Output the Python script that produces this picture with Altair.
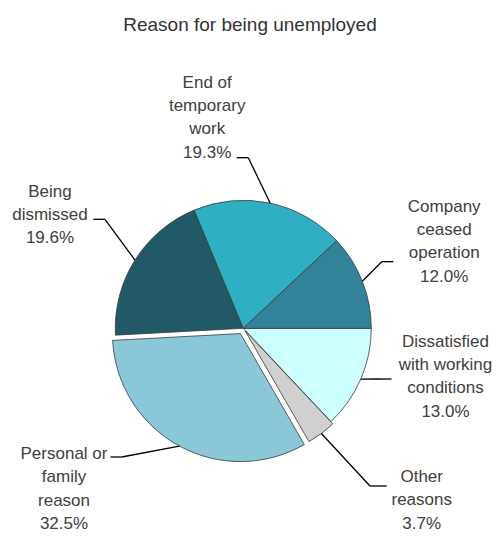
import altair as alt
import pandas as pd

# ---- data ----
categories = [
    "Dissatisfied with working conditions",
    "Other reasons",
    "Personal or family reason",
    "Being dismissed",
    "End of temporary work",
    "Company ceased operation",
]
label_text = [
    "Dissatisfied\nwith working\nconditions",
    "Other\nreasons",
    "Personal or\nfamily\nreason",
    "Being\ndismissed",
    "End of\ntemporary\nwork",
    "Company\nceased\noperation",
]
shares = [13.0, 3.7, 32.5, 19.6, 19.3, 12.0]
order = [0, 1, 2, 3, 4, 5]
title_text = ["Reason for being unemployed"]

# ---- styles ----
colors = ["#CCFFFF", "#D0D0D0", "#8AC7D9", "#215967", "#2FB0C2", "#31839A"]
FONT = "Liberation Sans, Arial, sans-serif"
TEXT_COLOR = "#404040"

# ---- layout (page pixels, converted to plot-area pixels) ----
OX, OY = 8, 8
CX, CY = 243.3 - OX, 328.3 - OY
R = 128
explode = [0, 3, 6, 0, 0, 0]
label_x = [445.5, 421.7, 64, 50, 207.2, 444.2]
label_y = [346.7, 482, 459, 196.7, 87.7, 211.7]
elbow_x = [381, 370, 121.7, 105, 248.3, 381.7]
elbow_y = [379, 486, 457, 219.3, 157.7, 261.7]
end_x = [391.5, 386.7, 110.5, 93.3, 236.7, 393.3]
end_y = [379, 486, 457, 219.3, 157.7, 261.7]
TITLE_X, TITLE_Y = 250 - OX, 30.5 - OY

df = pd.DataFrame({
    "name": categories,
    "text": label_text,
    "share": shares,
    "idx": order,
    "ex": explode,
    "lx": [v - OX for v in label_x],
    "ly": [v - OY for v in label_y],
    "bx": [v - OX for v in elbow_x],
    "by": [v - OY for v in elbow_y],
    "exx": [v - OX for v in end_x],
    "eyy": [v - OY for v in end_y],
})

base = alt.Chart(df).transform_window(
    cum="sum(share)", sort=[alt.SortField("idx")], frame=[None, 0]
).transform_joinaggregate(
    total="sum(share)"
).transform_calculate(
    t0="PI/2 + 2*PI*(datum.cum - datum.share)/datum.total",
    t1="PI/2 + 2*PI*datum.cum/datum.total",
).transform_calculate(
    mid="(datum.t0 + datum.t1)/2"
).transform_calculate(
    px=f"{CX} + datum.ex*sin(datum.mid)",
    py=f"{CY} - datum.ex*cos(datum.mid)",
).transform_calculate(
    sx=f"datum.px + {R}*sin(datum.mid)",
    sy=f"datum.py - {R}*cos(datum.mid)",
    label="datum.text + '\\n' + format(datum.share, '.1f') + '%'",
)

pie = base.mark_arc(radius=R, stroke="#3a3a3a", strokeWidth=0.8).encode(
    x=alt.X("px:Q", scale=None),
    y=alt.Y("py:Q", scale=None),
    theta=alt.Theta("t0:Q", scale=None, stack=None),
    theta2="t1:Q",
    color=alt.Color("name:N", scale=alt.Scale(domain=categories, range=colors), legend=None),
)

lead1 = base.mark_rule(color="#000000", strokeWidth=1.3).encode(
    x=alt.X("sx:Q", scale=None), y=alt.Y("sy:Q", scale=None),
    x2="bx:Q", y2="by:Q",
)
lead2 = base.mark_rule(color="#000000", strokeWidth=1.3).encode(
    x=alt.X("bx:Q", scale=None), y=alt.Y("by:Q", scale=None),
    x2="exx:Q", y2="eyy:Q",
)

labels = base.mark_text(
    align="center", baseline="alphabetic", lineBreak="\n", lineHeight=23.4,
    font=FONT, fontSize=17, color=TEXT_COLOR,
).encode(
    x=alt.X("lx:Q", scale=None), y=alt.Y("ly:Q", scale=None), text="label:N",
)

title = alt.Chart(pd.DataFrame({"t": title_text})).mark_text(
    align="center", baseline="alphabetic", font=FONT, fontSize=19, color="#333333",
).encode(
    x=alt.value(TITLE_X), y=alt.value(TITLE_Y), text="t:N",
)

chart = alt.layer(pie, lead1, lead2, labels, title).properties(
    width=485, height=526,
    autosize=alt.AutoSizeParams(type="none"),
    padding=0,
).configure_view(stroke=None)

chart.save("out.html", embed_options={"renderer": "svg", "actions": False})
